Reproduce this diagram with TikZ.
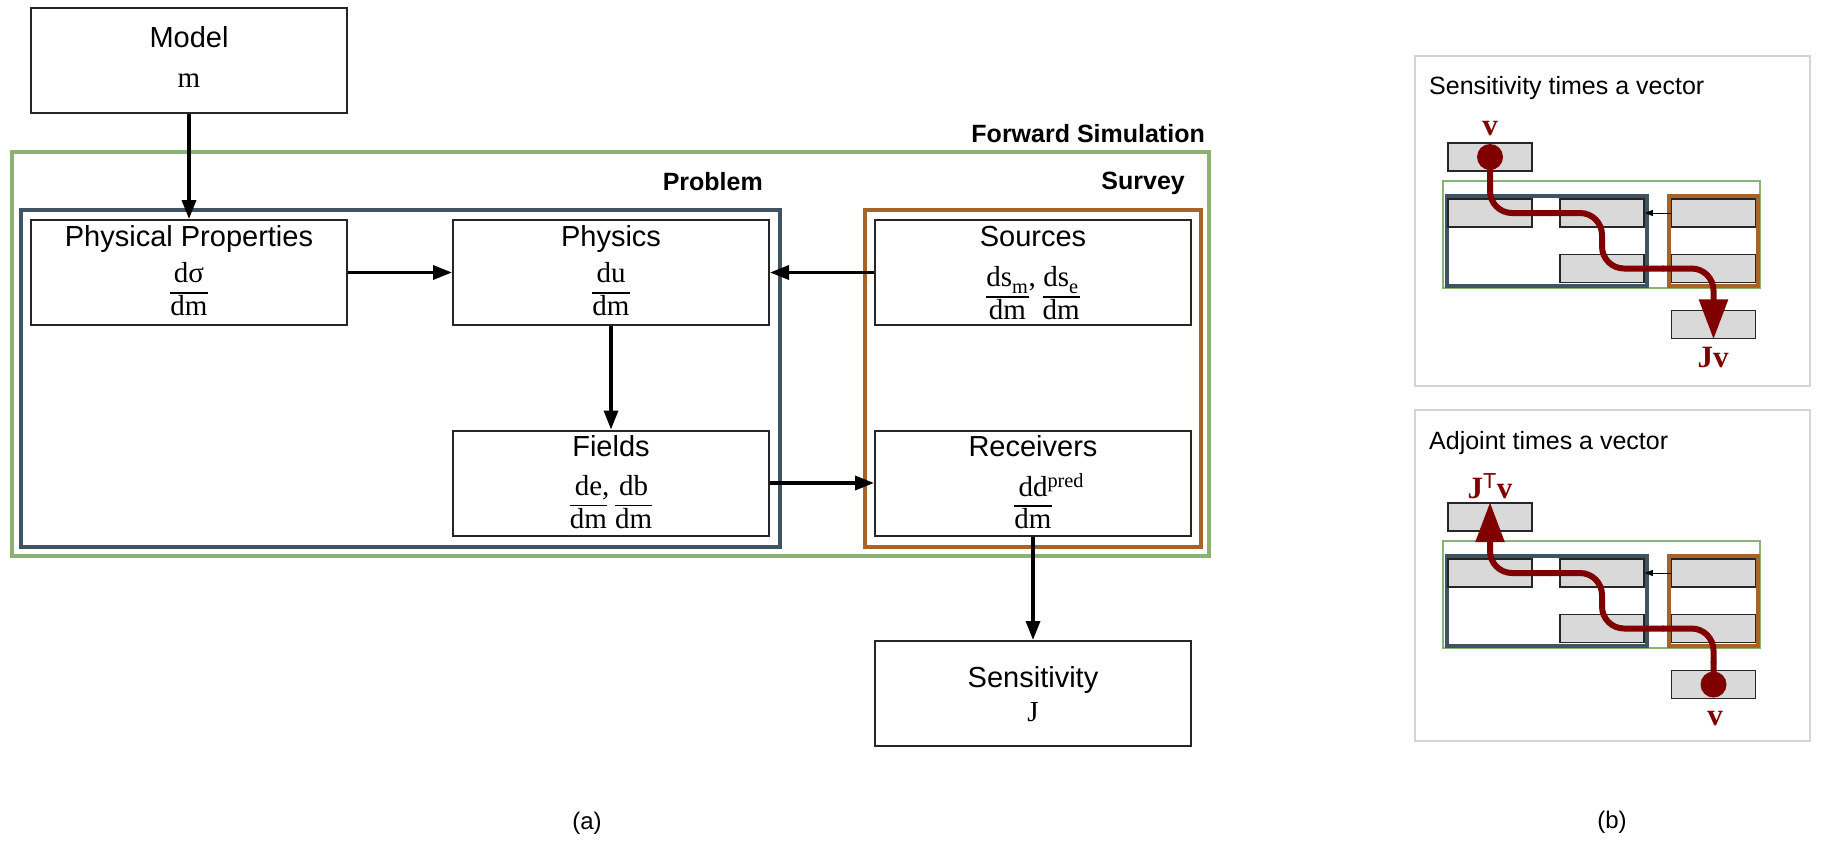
\documentclass[tikz,border=0pt]{standalone}
\usepackage{fontspec}
\setmainfont{Liberation Serif}
\setsansfont{Liberation Sans}
\usetikzlibrary{arrows.meta}

\definecolor{fwdgreen}{RGB}{138,178,116}
\definecolor{probslate}{RGB}{62,84,98}
\definecolor{survbrown}{RGB}{168,100,38}
\definecolor{panelgray}{RGB}{212,212,212}
\definecolor{minigray}{RGB}{217,217,217}
\definecolor{pathred}{RGB}{128,0,0}

\setlength{\arrayrulewidth}{1.6pt}
\newcommand{\frc}[2]{\begin{tabular}{@{}c@{}}#1\\\hline#2\end{tabular}}

\tikzset{
	blk/.style={draw=black!85, line width=2pt, minimum width=316pt, minimum height=105pt, inner sep=0pt},
	ttl/.style={font=\sffamily\fontsize{29}{34}\selectfont, anchor=base, inner sep=0pt},
	frm/.style={font=\fontsize{29}{31}\selectfont, inner sep=0pt},
	grp/.style={font=\sffamily\bfseries\fontsize{25}{30}\selectfont, anchor=base east, inner sep=0pt},
	ptl/.style={font=\sffamily\fontsize{25}{30}\selectfont, anchor=base west, inner sep=0pt},
	flow/.style={-{Triangle[length=19pt,width=14pt]}, line width=3.4pt},
	mini/.style={draw=black!85, fill=minigray, line width=1.6pt, minimum width=84pt, minimum height=28pt, inner sep=0pt},
	miniflow/.style={-{Triangle[length=8pt,width=6pt]}, line width=1pt},
	vec/.style={font=\bfseries\fontsize{31}{34}\selectfont, text=pathred, anchor=base, inner sep=0pt},
	redpath/.style={draw=pathred, line width=6pt, rounded corners=22pt, -{Triangle[length=40pt,width=28pt]}},
}

\begin{document}
\begin{tikzpicture}[x=1pt,y=-1pt]
	\useasboundingbox (0,0) rectangle (1847,860);
	% (a) forward simulation
	\draw[fwdgreen, line width=3.6pt] (12,152) rectangle (1209,556);
	\draw[probslate, line width=4pt] (21,210) rectangle (780,547);
	\draw[survbrown, line width=4pt] (865,210) rectangle (1201,547);
	\node[grp] (fwd-l) at (1205,142) {Forward Simulation};
	\node[grp] (prob-l) at (763,190) {Problem};
	\node[grp] (surv-l) at (1185,189) {Survey};

	\node[blk] (model) at (189,60.5) {};
	\node[ttl] (model-t) at ([yshift=-40pt]model.north) {Model};
	\node[frm, anchor=base] (model-f) at ([yshift=-80pt]model.north) {m};

	\node[blk] (pp) at (189,272.5) {};
	\node[ttl] (pp-t) at ([yshift=-27pt]pp.north) {Physical Properties};
	\node[frm] (pp-f) at ([yshift=-74pt]pp.north) {\frc{dσ}{dm}};

	\node[blk] (phys) at (611,272.5) {};
	\node[ttl] (phys-t) at ([yshift=-27pt]phys.north) {Physics};
	\node[frm] (phys-f) at ([yshift=-74pt]phys.north) {\frc{du}{dm}};

	\node[blk] (src) at (1033,272.5) {};
	\node[ttl] (src-t) at ([yshift=-27pt]src.north) {Sources};
	\node[frm] (src-f) at ([yshift=-78pt]src.north) {\frc{ds\raisebox{-3pt}{\textsubscript{m}}\rlap{,}}{dm}\hspace{14pt}\frc{ds\raisebox{-3pt}{\textsubscript{e}}}{dm}};

	\node[blk] (fld) at (611,483) {};
	\node[ttl] (fld-t) at ([yshift=-27pt]fld.north) {Fields};
	\node[frm] (fld-f) at ([yshift=-76pt]fld.north) {\frc{de\rlap{,}}{dm}\hspace{8pt}\frc{db}{dm}};

	\node[blk] (rcv) at (1033,483) {};
	\node[ttl] (rcv-t) at ([yshift=-27pt]rcv.north) {Receivers};
	\node[frm] (rcv-f) at ([yshift=-76pt]rcv.north) {\frc{dd\rlap{\textsuperscript{pred}}}{dm}};

	\node[blk] (sens) at (1033,693.5) {};
	\node[ttl] (sens-t) at ([yshift=-47pt]sens.north) {Sensitivity};
	\node[frm, anchor=base] (sens-f) at ([yshift=-81pt]sens.north) {J};

	\draw[flow] (model) -- (pp);
	\draw[flow] (pp) -- (phys);
	\draw[flow] (src) -- (phys);
	\draw[flow] (phys) -- (fld);
	\draw[flow] (fld) -- (rcv);
	\draw[flow] (rcv) -- (sens);

	% (b) the two small copies
	\draw[panelgray, line width=1.8pt] (1415,56) rectangle (1810,386);
	\draw[panelgray, line width=1.8pt] (1415,410) rectangle (1810,741);
	\node[ptl] (sjv-t) at (1429,94) {Sensitivity times a vector};
	\node[ptl] (ajv-t) at (1429,449) {Adjoint times a vector};
	\foreach \p/\dy in {1/0pt,2/360pt}{
		\begin{scope}[yshift=-\dy]
			\draw[fwdgreen, line width=2.8pt] (1443,181) rectangle (1760,288);
			\draw[probslate, line width=3.2pt] (1447,196) rectangle (1647,286);
			\draw[survbrown, line width=3.2pt] (1669,196) rectangle (1758,286);
			\node[mini] (mtop\p) at (1490,157) {};
			\node[mini] (mpp\p) at (1490,213) {};
			\node[mini] (mphys\p) at (1602,213) {};
			\node[mini] (msrc\p) at (1713.5,213) {};
			\node[mini] (mfld\p) at (1602,268.5) {};
			\node[mini] (mrcv\p) at (1713.5,268.5) {};
			\node[mini] (msens\p) at (1713.5,324.5) {};
			\draw[miniflow] (mtop\p) -- (mpp\p);
			\draw[miniflow] (mpp\p) -- (mphys\p);
			\draw[miniflow] (msrc\p) -- (mphys\p);
			\draw[miniflow] (mphys\p) -- (mfld\p);
			\draw[miniflow] (mfld\p) -- (mrcv\p);
			\draw[miniflow] (mrcv\p) -- (msens\p);
		\end{scope}
	}
	\fill[pathred] (mtop1.center) circle (13pt);
	\draw[redpath] (mtop1.center) |- (mphys1.center) |- (mrcv1.center) -- (msens1.south);
	\fill[pathred] (msens2.center) circle (13pt);
	\draw[redpath] (msens2.center) |- (mfld2.center) |- (mpp2.center) -- (mtop2.north);
	\node[vec] (vin) at (1490,135) {v};
	\node[vec] (jv) at (1713,367) {Jv};
	\node[vec] (jtv) at (1490,498) {J\textsuperscript{\normalfont\sffamily T}v};
	\node[vec] (vout) at (1715,725) {v};

	\node[font=\sffamily\fontsize{24}{28}\selectfont] (cap-a) at (587,823) {(a)};
	\node[font=\sffamily\fontsize{24}{28}\selectfont] (cap-b) at (1612,822) {(b)};
\end{tikzpicture}
\end{document}
